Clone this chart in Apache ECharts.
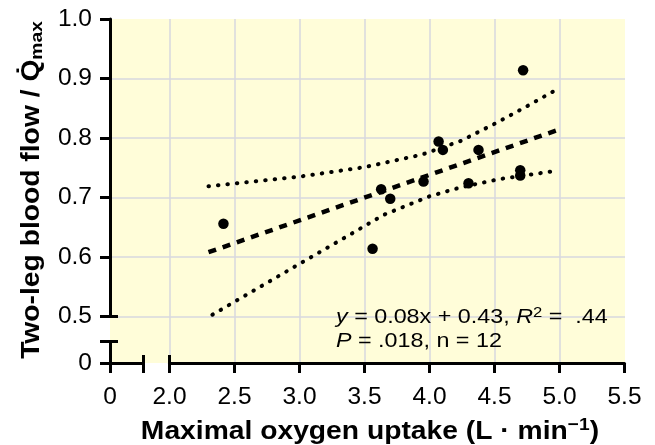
<!DOCTYPE html>
<html><head><meta charset="utf-8">
<script src="https://cdn.jsdelivr.net/npm/echarts@6/dist/echarts.min.js"></script>
<style>html,body{margin:0;padding:0;background:#fff}#c{width:655px;height:445px}</style>
</head><body><div id="c"></div>
<script>
// ---- data ----
const vo2  = [2.415, 3.562, 3.628, 3.698, 3.954, 4.070, 4.103, 4.300, 4.377, 4.698, 4.698, 4.720];
const flow = [0.656, 0.614, 0.714, 0.698, 0.727, 0.794, 0.780, 0.724, 0.780, 0.746, 0.737, 0.914];
const fitX = [2.30, 4.98];
const fitY = [0.608, 0.813];
const upperX = [2.30, 3.00, 3.50, 3.94, 4.24, 4.52, 4.73, 4.95];
const upperY = [0.719, 0.735, 0.751, 0.772, 0.795, 0.826, 0.851, 0.878];
const lowerX = [2.33, 2.69, 3.17, 3.65, 4.00, 4.24, 4.54, 4.95];
const lowerY = [0.503, 0.549, 0.610, 0.671, 0.702, 0.717, 0.731, 0.744];
const xRange = [2.0, 5.5], xStep = 0.5;
const yRange = [0.5, 1.0], yStep = 0.1;
const breakLabel = '0';
const xTitle = 'Maximal oxygen uptake (L · min', xTitleSup = '−1', xTitleEnd = ')';
const yTitle = 'Two-leg blood flow / Q\u0307', yTitleSub = 'max';
const statLine1 = ['y', ' = 0.08x + 0.43, ', 'R', '2', ' =  .44'];
const statLine2 = ['P', ' = .018, n = 12'];

// ---- layout ----
const FONT = "'Liberation Sans', Arial, Helvetica, sans-serif";
const L0 = 110, XB = 143, X2 = 169.5, XR = 624.5, T = 19, YB = 316.5, YB2 = 341.5, BOT = 363, RIGHT = 625;
const BLACK = '#000';
const axLine = {show: true, onZero: false, lineStyle: {color: BLACK, width: 3}};
const axTick = {show: true, length: 10, lineStyle: {color: BLACK, width: 3}};
const inTick = {show: true, inside: true, length: 8, lineStyle: {color: BLACK, width: 3}};
const grid = {color: '#d7d7de', width: 1.5};
const lab = (margin, fmt) => ({show: true, fontSize: 24.5, color: BLACK, fontFamily: FONT, margin: margin, formatter: fmt});
const hid = (i) => ({type: 'value', gridIndex: i, show: false, min: 0, max: 1});

const grids = [
  {left: L0, top: T, width: RIGHT - L0, height: BOT - T, show: true, backgroundColor: '#FFFDD9', borderWidth: 0}, // 0 bg
  {left: X2, top: T, width: XR - X2, height: BOT - T},      // 1 main x axis
  {left: L0, top: T, width: RIGHT - L0, height: YB - T},    // 2 main y axis
  {left: L0, top: YB2, width: RIGHT - L0, height: BOT - YB2}, // 3 small y segment
  {left: L0, top: T, width: XB - L0, height: BOT - T},      // 4 small x segment
  {left: L0, top: YB, width: RIGHT - L0, height: YB2 - YB}, // 5 y break marks
  {left: XB, top: T, width: X2 - XB, height: BOT - T},      // 6 x break marks
  {left: X2, top: T, width: XR - X2, height: YB - T}        // 7 data
];

const xAxes = [
  hid(0),
  {type: 'value', gridIndex: 1, min: xRange[0], max: xRange[1], interval: xStep,
   axisLine: axLine, axisTick: axTick, axisLabel: lab(22, v => v.toFixed(1)),
   splitLine: {show: true, showMaxLine: false, lineStyle: grid}},
  hid(2), hid(3),
  {type: 'value', gridIndex: 4, min: 0, max: 1, interval: 1, axisLine: axLine, axisTick: axTick,
   axisLabel: lab(22, v => v === 0 ? breakLabel : ''), splitLine: {show: false}},
  hid(5),
  {type: 'value', gridIndex: 6, min: 0, max: 1, interval: 1, axisLine: {show: false}, axisTick: inTick,
   axisLabel: {show: false}, splitLine: {show: false}},
  {type: 'value', gridIndex: 7, min: xRange[0], max: xRange[1], show: false}
];
const yAxes = [
  hid(0), hid(1),
  {type: 'value', gridIndex: 2, min: yRange[0], max: yRange[1], interval: yStep,
   axisLine: axLine, axisTick: axTick, axisLabel: lab(18, v => v.toFixed(1)),
   splitLine: {show: true, showMaxLine: false, lineStyle: grid}},
  {type: 'value', gridIndex: 3, min: 0, max: 1, interval: 1, axisLine: axLine, axisTick: axTick,
   axisLabel: lab(18, v => v === 0 ? breakLabel : ''), splitLine: {show: false}},
  hid(4),
  {type: 'value', gridIndex: 5, min: 0, max: 1, interval: 1, axisLine: {show: false}, axisTick: inTick,
   axisLabel: {show: false}, splitLine: {show: false}},
  hid(6),
  {type: 'value', gridIndex: 7, min: yRange[0], max: yRange[1], show: false}
];

const pairs = (xs, ys) => xs.map((x, i) => [x, ys[i]]);
const lineSeries = (xs, ys, style) => ({
  type: 'line', xAxisIndex: 7, yAxisIndex: 7, data: pairs(xs, ys), showSymbol: false, symbol: 'none',
  smooth: false, lineStyle: Object.assign({color: BLACK, opacity: 1}, style), silent: true, z: 3
});

const base = {fill: BLACK, fontFamily: FONT};
const option = {
  animation: false,
  grid: grids, xAxis: xAxes, yAxis: yAxes,
  series: [
    lineSeries(upperX, upperY, {width: 4, type: [0.5, 9], cap: 'round'}),
    lineSeries(lowerX, lowerY, {width: 4, type: [0.5, 9], cap: 'round'}),
    lineSeries(fitX, fitY, {width: 4.5, type: [8, 7], cap: 'butt'}),
    {type: 'scatter', xAxisIndex: 7, yAxisIndex: 7, data: pairs(vo2, flow), symbol: 'circle', symbolSize: 10.5,
     itemStyle: {color: BLACK, opacity: 1}, z: 4, silent: true}
  ],
  graphic: [
    {type: 'text', x: 370, y: 431, scaleX: 1.13, z: 10, style: {
      text: '{b|' + xTitle + '}{s|' + xTitleSup + '}{b|' + xTitleEnd + '}', align: 'center', verticalAlign: 'middle',
      rich: {
        b: Object.assign({fontSize: 25, fontWeight: 'bold', lineHeight: 28, verticalAlign: 'bottom'}, base),
        s: Object.assign({fontSize: 17, fontWeight: 'bold', lineHeight: 12, verticalAlign: 'top'}, base)
      }}},
    {type: 'text', x: 32, y: 190, rotation: Math.PI / 2, scaleX: 1.13, z: 10, style: {
      text: '{b|' + yTitle + '}{s|' + yTitleSub + '}', align: 'center', verticalAlign: 'middle',
      rich: {
        b: Object.assign({fontSize: 25, fontWeight: 'bold', lineHeight: 28}, base),
        s: Object.assign({fontSize: 17, fontWeight: 'bold', lineHeight: 22, verticalAlign: 'bottom'}, base)
      }}},
    {type: 'text', x: 336, y: 305, scaleX: 1.11, z: 10, style: {
      text: '{i|' + statLine1[0] + '}{n|' + statLine1[1] + '}{i|' + statLine1[2] + '}{s|' + statLine1[3] + '}{n|' + statLine1[4] + '}\n' +
            '{i|' + statLine2[0] + '}{n|' + statLine2[1] + '}',
      align: 'left', verticalAlign: 'top',
      rich: {
        n: Object.assign({fontSize: 21, lineHeight: 24}, base),
        i: Object.assign({fontSize: 21, lineHeight: 24, fontStyle: 'italic'}, base),
        s: Object.assign({fontSize: 15, lineHeight: 11, verticalAlign: 'top'}, base)
      }}}
  ]
};
const chart = echarts.init(document.getElementById('c'), null, {renderer: 'canvas'});
chart.setOption(option);
</script></body></html>
